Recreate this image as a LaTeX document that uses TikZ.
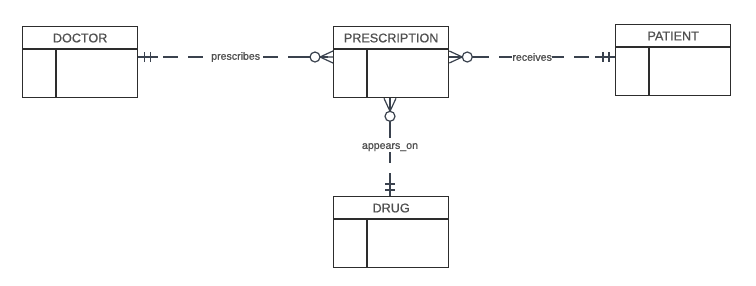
\documentclass[tikz,border=0pt]{standalone}
\usepackage{fontspec}
\setmainfont{Liberation Sans}
\newfontfamily\erfont{Liberation Sans}[AutoFakeBold=0.9]
\usetikzlibrary{positioning,calc}
\definecolor{edge}{RGB}{45,45,45}
\definecolor{txt}{RGB}{80,80,80}
\definecolor{link}{RGB}{58,66,78}

\tikzset{
  one/.pic={
    \draw[link,line width=1.2pt] (0,0) -- (-20,0);
    \draw[link,line width=1.2pt] (-6,-5) -- (-6,5) (-12,-5) -- (-12,5);
  },
  zeromany/.pic={
    \draw[link,line width=1.2pt] (-13,0) -- (0,-6) (-13,0) -- (0,0) (-13,0) -- (0,6);
    \draw[link,line width=1.2pt] (-23,0) -- (-30,0);
    \draw[link,line width=1.2pt,fill=white] (-18,0) circle[radius=5];
  }
}

\begin{document}
\begin{tikzpicture}[x=1pt,y=-1pt,
  entity/.style={rectangle,draw=edge,line width=1.3pt,minimum width=115pt,
                 minimum height=71pt,inner sep=0pt,anchor=north west},
  title/.style={font=\erfont\bfseries\fontsize{12.6}{14}\selectfont,text=txt,inner sep=0pt},
  rel/.style={draw=link,line width=1.2pt,dash pattern=on 15pt off 10pt},
  lbl/.style={font=\erfont\bfseries\fontsize{10.6}{12}\selectfont,text=txt,fill=white,inner sep=0.5pt}]
\useasboundingbox (0,0) rectangle (756,285);
% entities: box, header rule, key column
\foreach \name/\label/\x/\y in {doctor/DOCTOR/22/26, prescription/PRESCRIPTION/333/26,
                                patient/PATIENT/615/24, drug/DRUG/333/196}{
  \node[entity] (\name) at (\x,\y) {};
  \draw[edge,line width=1.3pt] ($(\name.north west)+(0,23)$) -- ($(\name.north east)+(0,23)$);
  \draw[edge,line width=1.3pt] ($(\name.north west)+(34,23)$) -- ($(\name.south west)+(34,0)$);
  \node[title] at ($(\name.north)+(0,12)$) {\label};
}
% relationship end points
\coordinate (dp) at ($(doctor.north east)+(0,31)$);
\coordinate (pd) at ($(prescription.north west)+(0,31)$);
\coordinate (rp) at ($(prescription.north east)+(0,31)$);
\coordinate (pr) at (patient.west |- rp);
\coordinate (ap) at ($(prescription.south west)+(57,0)$);
\coordinate (ad) at (ap |- drug.north);
% relationships
\draw[rel] (dp) -- node[lbl] {prescribes} (pd);
\draw[rel] (rp) -- node[lbl] {receives} (pr);
\draw[rel] (ap) -- node[lbl] {appears\_on} (ad);
% cardinalities
\pic[rotate=180] at (dp) {one};
\pic at (pd) {zeromany};
\pic[rotate=180] at (rp) {zeromany};
\pic at (pr) {one};
\pic[rotate=90] at (ap) {zeromany};
\pic[rotate=-90] at (ad) {one};
\end{tikzpicture}
\end{document}
